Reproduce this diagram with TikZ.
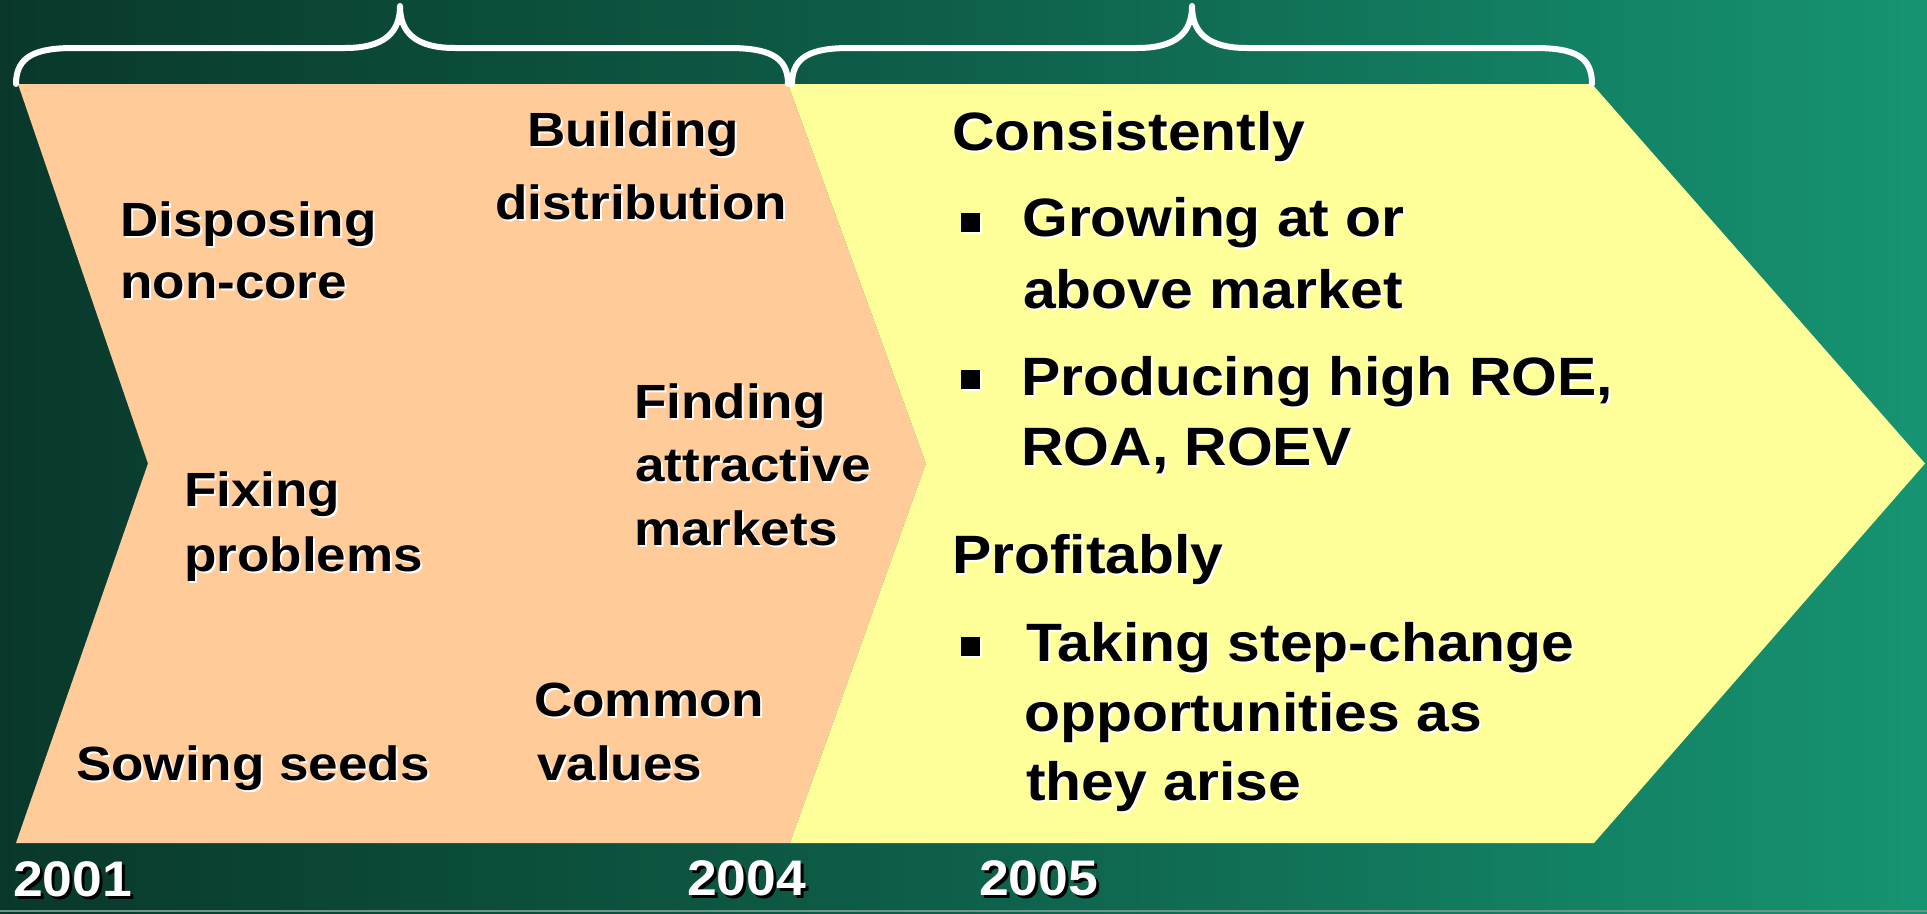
\documentclass[tikz,border=0pt]{standalone}
\usepackage{fontspec}
\setmainfont{Liberation Sans}[FakeStretch=1.07]
\newfontfamily\lfont{Liberation Sans}[FakeStretch=1.105]
\newfontfamily\rfont{Liberation Sans}[FakeStretch=1.09]
\definecolor{peach}{RGB}{255,204,153}
\definecolor{lemon}{RGB}{255,255,153}
\definecolor{bgL}{RGB}{9,56,43}
\definecolor{bgM}{RGB}{14,96,74}
\definecolor{bgR}{RGB}{22,148,114}
\definecolor{edgeline}{RGB}{110,150,135}
\newcommand\sht[1]{\leavevmode\rlap{\kern2pt\raisebox{-2pt}{\textcolor{white}{#1}}}#1}
\newcommand\shy[1]{\leavevmode\rlap{\kern3pt\raisebox{-3pt}{\textcolor{black}{#1}}}\textcolor{white}{#1}}
\begin{document}
\begin{tikzpicture}[x=1pt,y=-1pt,
  lt/.style={anchor=base west, inner sep=0pt, font=\lfont\bfseries\fontsize{48}{58}\selectfont},
  rt/.style={anchor=base west, inner sep=0pt, font=\rfont\bfseries\fontsize{54}{64}\selectfont},
  yr/.style={anchor=base west, inner sep=0pt, font=\bfseries\fontsize{50}{60}\selectfont},
  sq/.style={inner sep=0pt, anchor=center},
  brace/.style={draw=white, line width=6pt, line join=round, line cap=round}]
\useasboundingbox (0,0) rectangle (1927,913);
\shade[left color=bgL, right color=bgR, middle color=bgM] (0,0) rectangle (1927,913);
\draw[edgeline, line width=2pt] (0,911) -- (1927,911);
% chevrons
\coordinate (oTL) at (18,84);
\coordinate (mT) at (788,84);
\coordinate (mP) at (926,463.5);
\coordinate (mB) at (790,843);
\coordinate (oBL) at (16,843);
\coordinate (oN) at (148,463.5);
\coordinate (yTR) at (1592,84);
\coordinate (yP) at (1925,463.5);
\coordinate (yBR) at (1594,843);
\fill[peach] (oTL) -- (mT) -- (mP) -- (mB) -- (oBL) -- (oN) -- cycle;
\fill[lemon] (mT) -- (yTR) -- (yP) -- (yBR) -- (mB) -- (mP) -- cycle;
% braces
\draw[brace] (16,84) .. controls (16,56) and (36,48) .. (74,48) -- (345,48)
  .. controls (385,48) and (400,32) .. (400,6)
  .. controls (400,32) and (415,48) .. (455,48) -- (728,48)
  .. controls (768,48) and (788,56) .. (788,84);
\draw[brace] (792,84) .. controls (792,56) and (812,48) .. (850,48) -- (1137,48)
  .. controls (1177,48) and (1192,32) .. (1192,6)
  .. controls (1192,32) and (1207,48) .. (1247,48) -- (1534,48)
  .. controls (1574,48) and (1592,56) .. (1592,84);
% left texts
\node[lt] (bld1) at (527,146.7) {\sht{Building}};
\node[lt] (bld2) at (495,219.3) {\sht{distribution}};
\node[lt] (dsp1) at (120,236.7) {\sht{Disposing}};
\node[lt] (dsp2) at (120,298.3) {\sht{non-core}};
\node[lt] (fnd1) at (634,418.3) {\sht{Finding}};
\node[lt] (fnd2) at (635,481.7) {\sht{attractive}};
\node[lt] (fnd3) at (634,545) {\sht{markets}};
\node[lt] (fix1) at (184,506.7) {\sht{Fixing}};
\node[lt] (fix2) at (184,571) {\sht{problems}};
\node[lt] (com1) at (534,716.7) {\sht{Common}};
\node[lt] (com2) at (537,780) {\sht{values}};
\node[lt] (sow) at (76,780) {\sht{Sowing seeds}};
% right texts
\node[rt] (cons) at (952,150) {\sht{Consistently}};
\node[sq] (b1) at (970,223) {\sht{\rule{19pt}{19pt}}};
\node[rt] (gr1) at (1022,236.7) {\sht{Growing at or}};
\node[rt] (gr2) at (1023,308.3) {\sht{above market}};
\node[sq] (b2) at (970,380) {\sht{\rule{19pt}{19pt}}};
\node[rt] (pr1) at (1021,395) {\sht{Producing high ROE,}};
\node[rt] (pr2) at (1021,465) {\sht{ROA, ROEV}};
\node[rt] (prof) at (952,573.3) {\sht{Profitably}};
\node[sq] (b3) at (970,647.5) {\sht{\rule{19pt}{19pt}}};
\node[rt] (tk1) at (1026,661.7) {\sht{Taking step-change}};
\node[rt] (tk2) at (1024,731.7) {\sht{opportunities as}};
\node[rt] (tk3) at (1026,800) {\sht{they arise}};
% years
\node[yr] (y1) at (13,896) {\shy{2001}};
\node[yr] (y4) at (687,895) {\shy{2004}};
\node[yr] (y5) at (979,895) {\shy{2005}};
\end{tikzpicture}
\end{document}
